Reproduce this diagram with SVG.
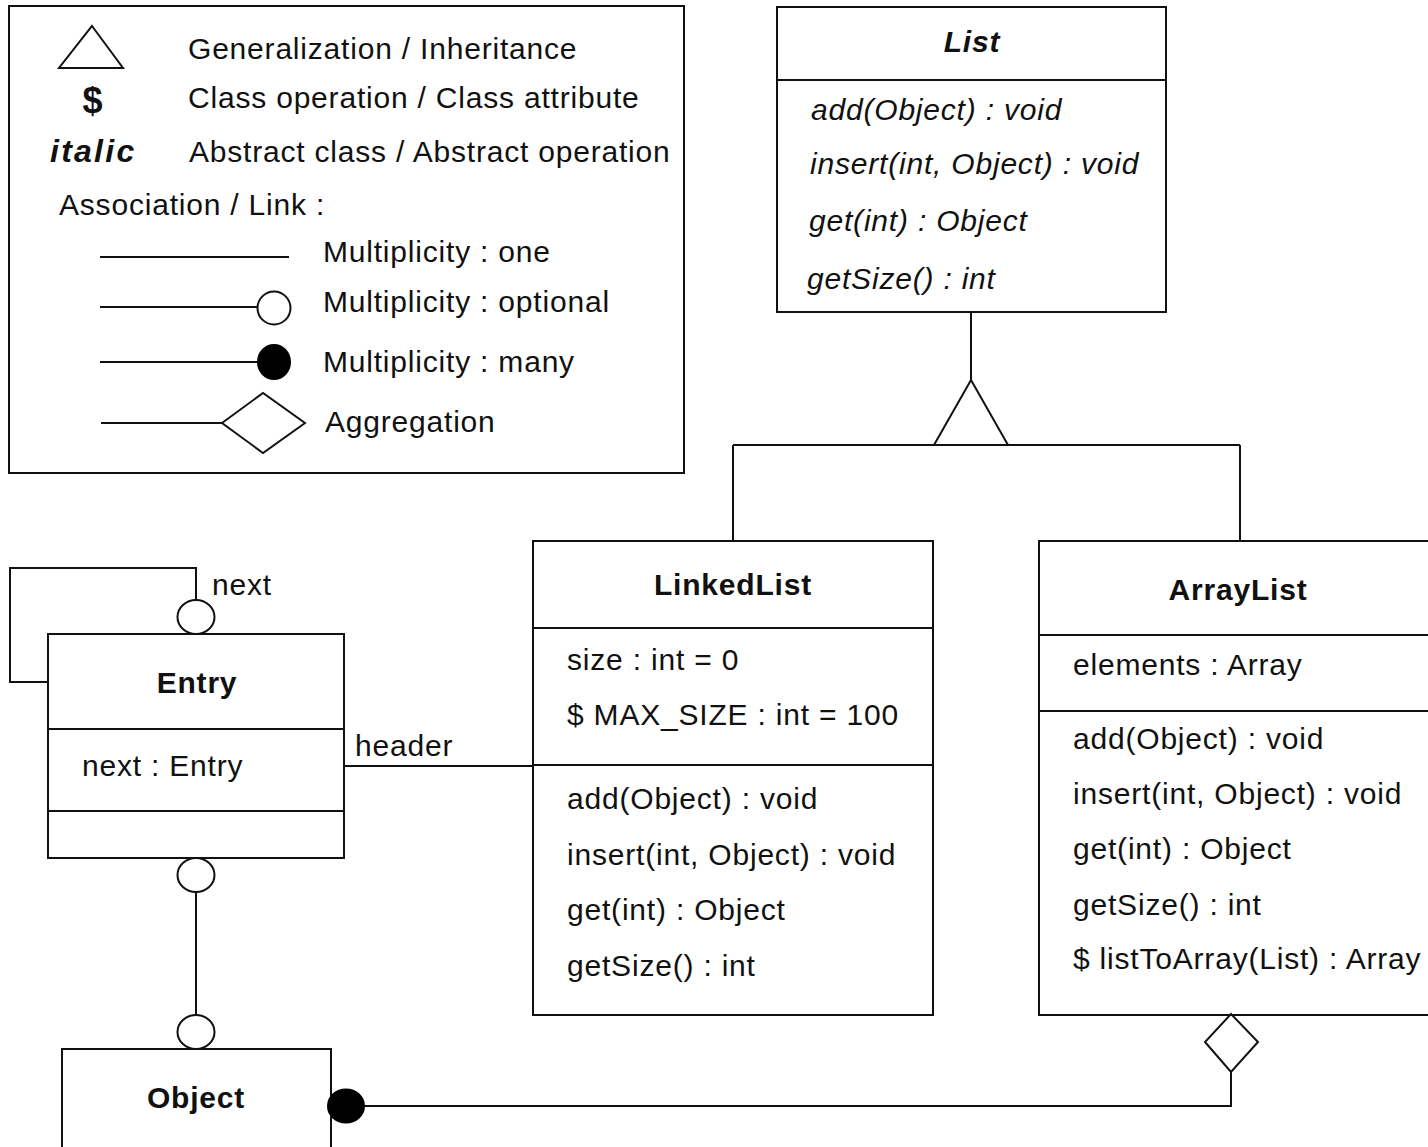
<svg xmlns="http://www.w3.org/2000/svg" width="1428" height="1147" viewBox="0 0 1428 1147">
<style>
  text { font-family: "Liberation Sans", Arial, sans-serif; font-size: 30px; letter-spacing: 0.8px; fill: #111; }
  .b { font-weight: bold; }
  .i { font-style: italic; }
  .c { text-anchor: middle; }
  .box { fill: #fff; stroke: #111; stroke-width: 2; }
  .ln { fill: none; stroke: #111; stroke-width: 2; }
  .open { fill: #fff; stroke: #111; stroke-width: 2; }
  .fill { fill: #000; stroke: #000; stroke-width: 2; }
</style>
<rect width="1428" height="1147" fill="#fff"/>

<g id="legend">
  <rect class="box" x="9" y="6" width="675" height="467"/>
  <polygon class="open" points="92,26 123,68 59,68"/>
  <text x="188" y="59">Generalization / Inheritance</text>
  <text class="b c" x="93" y="113" style="font-size:36px">$</text>
  <text x="188" y="108">Class operation / Class attribute</text>
  <text class="b i" x="50" y="162" textLength="85" lengthAdjust="spacing" style="font-size:32px">italic</text>
  <text x="189" y="162">Abstract class / Abstract operation</text>
  <text x="59" y="215">Association / Link :</text>
  <line class="ln" x1="100" y1="257" x2="289" y2="257"/>
  <text x="323" y="262">Multiplicity : one</text>
  <line class="ln" x1="100" y1="307" x2="258" y2="307"/>
  <ellipse class="open" cx="274" cy="308" rx="16.5" ry="16.5"/>
  <text x="323" y="312">Multiplicity : optional</text>
  <line class="ln" x1="100" y1="362" x2="258" y2="362"/>
  <ellipse class="fill" cx="274" cy="362" rx="16" ry="17"/>
  <text x="323" y="372">Multiplicity : many</text>
  <line class="ln" x1="101" y1="423" x2="222" y2="423"/>
  <polygon class="open" points="222,423 263,393 305,423 263,453"/>
  <text x="325" y="432">Aggregation</text>
</g>

<g id="List">
  <rect class="box" x="777" y="7" width="389" height="305"/>
  <line class="ln" x1="777" y1="80" x2="1166" y2="80"/>
  <text class="b i c" x="972" y="52">List</text>
  <text class="i" x="811" y="120">add(Object) : void</text>
  <text class="i" x="810" y="174">insert(int, Object) : void</text>
  <text class="i" x="809" y="231">get(int) : Object</text>
  <text class="i" x="807" y="289">getSize() : int</text>
</g>

<g id="LinkedList">
  <rect class="box" x="533" y="541" width="400" height="474"/>
  <line class="ln" x1="533" y1="628" x2="933" y2="628"/>
  <line class="ln" x1="533" y1="765" x2="933" y2="765"/>
  <text class="b c" x="733" y="595">LinkedList</text>
  <text x="567" y="670">size : int = 0</text>
  <text x="567" y="725">$ MAX_SIZE : int = 100</text>
  <text x="567" y="809">add(Object) : void</text>
  <text x="567" y="865">insert(int, Object) : void</text>
  <text x="567" y="920">get(int) : Object</text>
  <text x="567" y="976">getSize() : int</text>
</g>

<g id="ArrayList">
  <rect class="box" x="1039" y="541" width="420" height="474"/>
  <line class="ln" x1="1039" y1="635" x2="1440" y2="635"/>
  <line class="ln" x1="1039" y1="711" x2="1440" y2="711"/>
  <text class="b c" x="1238" y="600">ArrayList</text>
  <text x="1073" y="675">elements : Array</text>
  <text x="1073" y="749">add(Object) : void</text>
  <text x="1073" y="804">insert(int, Object) : void</text>
  <text x="1073" y="859">get(int) : Object</text>
  <text x="1073" y="915">getSize() : int</text>
  <text x="1073" y="969">$ listToArray(List) : Array</text>
</g>

<g id="Entry">
  <rect class="box" x="48" y="634" width="296" height="224"/>
  <line class="ln" x1="48" y1="729" x2="344" y2="729"/>
  <line class="ln" x1="48" y1="811" x2="344" y2="811"/>
  <text class="b c" x="197" y="693">Entry</text>
  <text x="82" y="776">next : Entry</text>
</g>

<g id="Object">
  <rect class="box" x="62" y="1049" width="269" height="120"/>
  <text class="b c" x="196" y="1108">Object</text>
</g>

<g id="connectors">
  <line class="ln" x1="971" y1="312" x2="971" y2="380"/>
  <line class="ln" x1="733" y1="445" x2="1240" y2="445"/>
  <line class="ln" x1="733" y1="445" x2="733" y2="541"/>
  <line class="ln" x1="1240" y1="445" x2="1240" y2="541"/>
  <polygon class="open" points="971,380 1008,445 934,445"/>
  <polyline class="ln" points="48,682 10,682 10,568 196,568 196,600"/>
  <ellipse class="open" cx="196" cy="617" rx="18.5" ry="17"/>
  <text x="212" y="595">next</text>
  <line class="ln" x1="344" y1="766" x2="533" y2="766"/>
  <text x="355" y="756">header</text>
  <line class="ln" x1="196" y1="892" x2="196" y2="1015"/>
  <ellipse class="open" cx="196" cy="875" rx="18.5" ry="17"/>
  <ellipse class="open" cx="196" cy="1032" rx="18.5" ry="17"/>
  <polyline class="ln" points="364,1106 1231,1106 1231,1072"/>
  <polygon class="open" points="1231,1014 1258,1042 1231,1072 1205,1042"/>
  <ellipse class="fill" cx="346" cy="1106" rx="18" ry="16.5"/>
</g>
</svg>
